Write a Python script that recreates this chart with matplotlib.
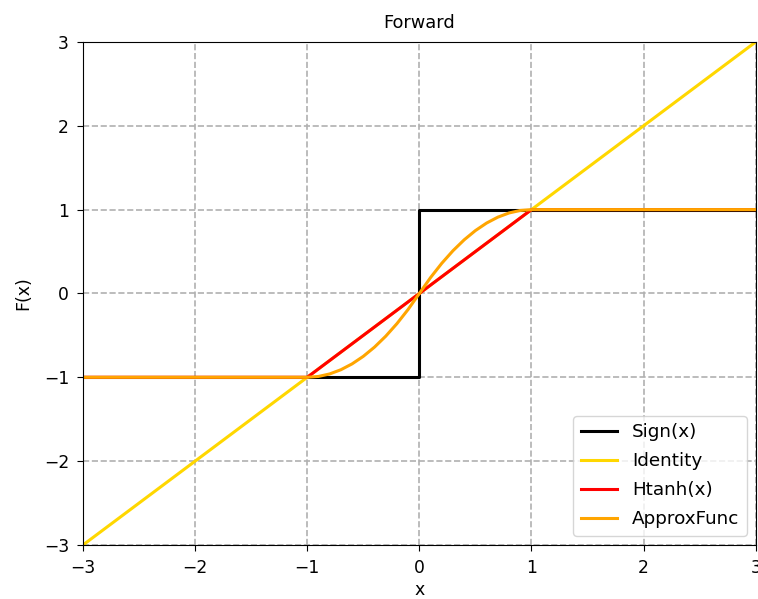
import matplotlib
matplotlib.use("Agg")
import matplotlib.pyplot as plt

# Data
sign_x = [-3, 0, 0, 3]
sign_y = [-1, -1, 1, 1]

ident_x = [-3, 3]
ident_y = [-3, 3]

htanh_x = [-3, -1, 1, 3]
htanh_y = [-1, -1, 1, 1]

approx_x = [-3, -1.0, -0.9, -0.8, -0.7, -0.6, -0.5, -0.4, -0.3, -0.2, -0.1, 0.0,
            0.1, 0.2, 0.3, 0.4, 0.5, 0.6, 0.7, 0.8, 0.9, 1.0, 3]
approx_y = [-1, -1.0, -0.99, -0.96, -0.91, -0.84, -0.75, -0.64, -0.51, -0.36, -0.19, 0.0,
            0.19, 0.36, 0.51, 0.64, 0.75, 0.84, 0.91, 0.96, 0.99, 1.0, 1]

ticks = [-3, -2, -1, 0, 1, 2, 3]

plt.rcParams["font.size"] = 12.3
for a in ("xtick", "ytick"):
    plt.rcParams[a + ".major.size"] = 4.5
    plt.rcParams[a + ".major.pad"] = 5.5

fig = plt.figure(figsize=(7.58, 5.99), dpi=100)
ax = fig.add_axes([0.1095, 0.0902, 0.8875, 0.8398])

lw = 2.2
ax.plot(sign_x, sign_y, color="black", lw=lw, label="Sign(x)")
ax.plot(ident_x, ident_y, color="gold", lw=lw, label="Identity")
ax.plot(htanh_x, htanh_y, color="red", lw=lw, label="Htanh(x)")
ax.plot(approx_x, approx_y, color="orange", lw=lw, label="ApproxFunc")

ax.set_xlim(-3, 3)
ax.set_ylim(-3, 3)
ax.set_xticks(ticks)
ax.set_yticks(ticks)
ax.grid(True, linestyle="--", color="#b0b0b0", lw=1.2)
ax.set_xlabel("x", fontsize=12.5, labelpad=3)
ax.set_ylabel("F(x)", fontsize=12.5, labelpad=8)
ax.set_title("Forward", fontsize=12.8, pad=10)
ax.legend(loc="lower right", fontsize=13.2, labelspacing=0.6)

fig.savefig("out.png", dpi=100)
